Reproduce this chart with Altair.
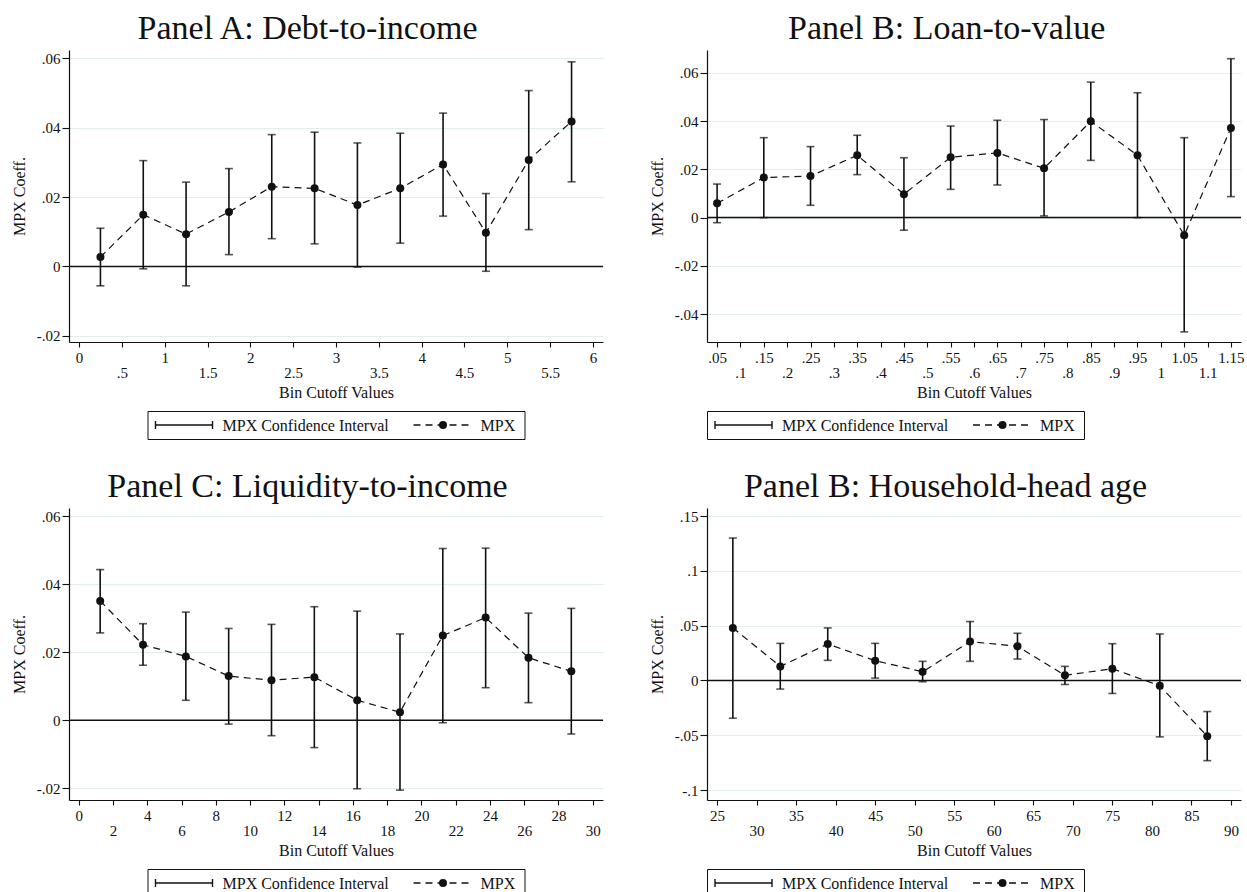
import altair as alt
import pandas as pd

# ---------------- data ----------------
# Panel A: Debt-to-income
dti_x = [0.25, 0.75, 1.25, 1.75, 2.25, 2.75, 3.25, 3.75, 4.25, 4.75, 5.25, 5.75]
dti_mpx = [0.0027, 0.0149, 0.0093, 0.0157, 0.0230, 0.0225, 0.0177, 0.0225, 0.0294, 0.0097, 0.0307, 0.0418]
dti_lo = [-0.0056, -0.0007, -0.0056, 0.0034, 0.0080, 0.0065, -0.0002, 0.0067, 0.0145, -0.0014, 0.0106, 0.0244]
dti_hi = [0.0110, 0.0305, 0.0243, 0.0282, 0.0380, 0.0387, 0.0356, 0.0384, 0.0442, 0.0210, 0.0507, 0.0590]
dti_xticks = [0, 0.5, 1, 1.5, 2, 2.5, 3, 3.5, 4, 4.5, 5, 5.5, 6]
dti_yticks = [-0.02, 0, 0.02, 0.04, 0.06]

# Panel B: Loan-to-value
ltv_x = [0.05, 0.15, 0.25, 0.35, 0.45, 0.55, 0.65, 0.75, 0.85, 0.95, 1.05, 1.15]
ltv_mpx = [0.0059, 0.0166, 0.0172, 0.0258, 0.0097, 0.0250, 0.0268, 0.0204, 0.0399, 0.0258, -0.0073, 0.0371]
ltv_lo = [-0.0021, 0.0000, 0.0051, 0.0178, -0.0052, 0.0117, 0.0135, 0.0007, 0.0237, 0.0000, -0.0473, 0.0087]
ltv_hi = [0.0139, 0.0331, 0.0294, 0.0341, 0.0248, 0.0379, 0.0403, 0.0406, 0.0561, 0.0517, 0.0331, 0.0658]
ltv_xticks = [0.05, 0.1, 0.15, 0.2, 0.25, 0.3, 0.35, 0.4, 0.45, 0.5, 0.55, 0.6, 0.65,
              0.7, 0.75, 0.8, 0.85, 0.9, 0.95, 1, 1.05, 1.1, 1.15]
ltv_yticks = [-0.04, -0.02, 0, 0.02, 0.04, 0.06]

# Panel C: Liquidity-to-income
lti_x = [1.25, 3.75, 6.25, 8.75, 11.25, 13.75, 16.25, 18.75, 21.25, 23.75, 26.25, 28.75]
lti_mpx = [0.0351, 0.0222, 0.0188, 0.0130, 0.0118, 0.0127, 0.0059, 0.0024, 0.0249, 0.0302, 0.0184, 0.0144]
lti_lo = [0.0257, 0.0162, 0.0059, -0.0011, -0.0045, -0.0080, -0.0201, -0.0205, -0.0007, 0.0096, 0.0052, -0.0040]
lti_hi = [0.0443, 0.0284, 0.0318, 0.0270, 0.0282, 0.0334, 0.0321, 0.0254, 0.0505, 0.0506, 0.0315, 0.0329]
lti_xticks = [0, 2, 4, 6, 8, 10, 12, 14, 16, 18, 20, 22, 24, 26, 28, 30]
lti_yticks = [-0.02, 0, 0.02, 0.04, 0.06]

# Panel D: Household-head age
age_x = [27, 33, 39, 45, 51, 57, 63, 69, 75, 81, 87]
age_mpx = [0.0479, 0.0128, 0.0332, 0.0180, 0.0079, 0.0354, 0.0311, 0.0046, 0.0107, -0.0049, -0.0509]
age_lo = [-0.0345, -0.0079, 0.0183, 0.0021, -0.0012, 0.0174, 0.0195, -0.0037, -0.0119, -0.0515, -0.0732]
age_hi = [0.1299, 0.0338, 0.0479, 0.0338, 0.0174, 0.0537, 0.0430, 0.0128, 0.0335, 0.0424, -0.0284]
age_xticks = [25, 30, 35, 40, 45, 50, 55, 60, 65, 70, 75, 80, 85, 90]
age_yticks = [-0.1, -0.05, 0, 0.05, 0.1, 0.15]

panel_titles = ["Panel A: Debt-to-income", "Panel B: Loan-to-value",
                "Panel C: Liquidity-to-income", "Panel B: Household-head age"]
legend_labels = ["MPX Confidence Interval", "MPX"]
x_title = "Bin Cutoff Values"
y_title = "MPX Coeff."

# ---------------- styling ----------------
FONT = "Liberation Serif"
INK = "#111111"
GRID = "#e2eded"
PW, PH = 534, 292
STRIP0 = "replace(toString(datum.value), '0.', '.')"


def panel(title, xs, est, lo, hi, xdom, xticks, row2_test, ydom, yticks):
    df = pd.DataFrame({"x": xs, "est": est, "lo": lo, "hi": hi})
    xaxis = alt.Axis(values=xticks, labelExpr=STRIP0, grid=False, tickSize=5,
                     tickColor=INK, tickWidth=1.1, domainColor=INK, domainWidth=1.2,
                     labelFontSize=15, labelColor=INK, labelFlush=False, labelOverlap=False,
                     labelPadding={"condition": {"test": row2_test, "value": 18}, "value": 3},
                     title=x_title, titleFontSize=16, titleFontWeight="normal",
                     titleColor=INK, titlePadding=4)
    yaxis = alt.Axis(values=yticks, labelExpr=STRIP0, grid=True, gridColor=GRID, gridWidth=1,
                     tickSize=7, tickColor=INK, tickWidth=1.1, domainColor=INK, domainWidth=1.2,
                     labelFontSize=15, labelColor=INK, labelPadding=2, labelFlush=False,
                     labelOverlap=False, title=y_title, titleFontSize=16,
                     titleFontWeight="normal", titleColor=INK, titlePadding=9)
    xs_ = alt.Scale(domain=xdom, nice=False, zero=False)
    ys_ = alt.Scale(domain=ydom, nice=False, zero=False)
    X = alt.X("x:Q", scale=xs_, axis=xaxis)

    def Y(f):
        return alt.Y(f, type="quantitative", scale=ys_, axis=yaxis)

    base = alt.Chart(df)
    zero = alt.Chart(pd.DataFrame({"z": [0.0]})).mark_rule(
        color=INK, strokeWidth=1.5).encode(y=Y("z"))
    bars = base.mark_rule(color=INK, strokeWidth=1.6).encode(
        x=X, y=Y("lo"), y2=alt.Y2("hi"))
    cap_lo = base.mark_tick(color=INK, thickness=1.6, size=8, orient="horizontal").encode(
        x=X, y=Y("lo"))
    cap_hi = base.mark_tick(color=INK, thickness=1.6, size=8, orient="horizontal").encode(
        x=X, y=Y("hi"))
    line = base.mark_line(color=INK, strokeWidth=1.2, strokeDash=[7, 5]).encode(
        x=X, y=Y("est"))
    pts = base.mark_circle(color=INK, size=64, opacity=1).encode(x=X, y=Y("est"))
    return alt.layer(zero, bars, cap_lo, cap_hi, line, pts).properties(
        width=PW, height=PH,
        title=alt.TitleParams(title, fontSize=34, font=FONT, fontWeight="normal",
                              color=INK, anchor="middle", frame="bounds", offset=4))


def legend():
    one = pd.DataFrame({"a": [0]})
    b = alt.Chart(one)
    yc = 14
    ci = b.mark_rule(color=INK, strokeWidth=1.6).encode(
        x=alt.value(8), x2=alt.value(65), y=alt.value(yc))
    cap_l = b.mark_rule(color=INK, strokeWidth=1.4).encode(
        x=alt.value(8), y=alt.value(yc - 4), y2=alt.value(yc + 4))
    cap_r = b.mark_rule(color=INK, strokeWidth=1.4).encode(
        x=alt.value(65), y=alt.value(yc - 4), y2=alt.value(yc + 4))
    t1 = b.mark_text(align="left", baseline="middle", fontSize=16, font=FONT, color=INK).encode(
        x=alt.value(75), y=alt.value(yc + 1), text=alt.value(legend_labels[0]))
    dash = b.mark_rule(color=INK, strokeWidth=1.3, strokeDash=[7, 5]).encode(
        x=alt.value(266), x2=alt.value(326), y=alt.value(yc))
    dot = b.mark_circle(color=INK, size=64, opacity=1).encode(
        x=alt.value(295.5), y=alt.value(yc))
    t2 = b.mark_text(align="left", baseline="middle", fontSize=16, font=FONT, color=INK).encode(
        x=alt.value(333), y=alt.value(yc + 1), text=alt.value(legend_labels[1]))
    return alt.layer(ci, cap_l, cap_r, t1, dash, dot, t2).properties(
        width=377, height=28, view=alt.ViewBackground(stroke=INK, strokeWidth=1))


pA = panel(panel_titles[0], dti_x, dti_mpx, dti_lo, dti_hi, [-0.117, 6.117], dti_xticks,
           "datum.value % 1 !== 0", [-0.0218, 0.0624], dti_yticks)
pB = panel(panel_titles[1], ltv_x, ltv_mpx, ltv_lo, ltv_hi, [0.0284, 1.1716], ltv_xticks,
           "round(datum.value * 20) % 2 === 0", [-0.0515, 0.0694], ltv_yticks)
pC = panel(panel_titles[2], lti_x, lti_mpx, lti_lo, lti_hi, [-0.57, 30.6], lti_xticks,
           "datum.value % 4 !== 0", [-0.0234, 0.0624], lti_yticks)
pD = panel(panel_titles[3], age_x, age_mpx, age_lo, age_hi, [23.73, 91.27], age_xticks,
           "datum.value % 10 === 0", [-0.1091, 0.1573], age_yticks)

chart = alt.concat(
    pA, pB, legend(), legend(), pC, pD, legend(), legend(),
    columns=2, spacing={"row": 69, "column": 104}, bounds="flush", center=True,
).properties(
    padding={"left": 10, "top": 11, "right": 0, "bottom": 0},
    background="white",
).configure(font=FONT).configure_view(stroke="transparent")

chart.save("out.html", embed_options={"renderer": "svg", "actions": False})
